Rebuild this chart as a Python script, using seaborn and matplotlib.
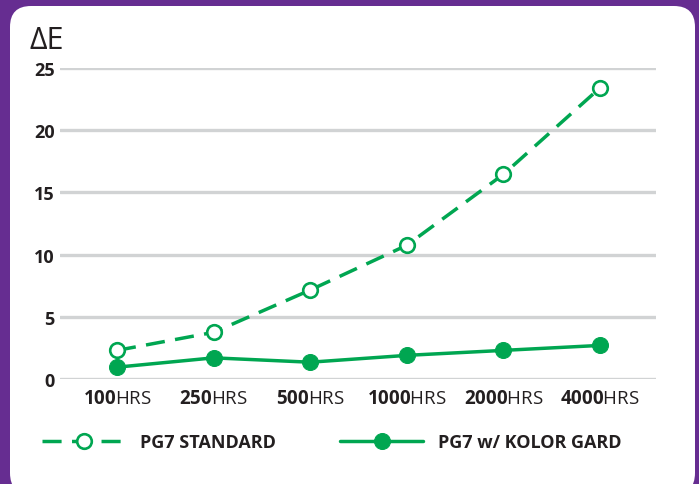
import pandas as pd
import matplotlib.pyplot as plt
import seaborn as sns
from matplotlib.patches import FancyBboxPatch

hours = ['100', '250', '500', '1000', '2000', '4000']
standard = [2.3, 3.75, 7.15, 10.75, 16.45, 23.4]
kolor_gard = [0.95, 1.7, 1.35, 1.9, 2.3, 2.7]
y_ticks = [0, 5, 10, 15, 20, 25]

green = '#00a651'
purple = '#662d91'
dark = '#231f20'

sns.set_style('white')
plt.rcParams['font.family'] = ['Open Sans', 'DejaVu Sans']
plt.rcParams['mathtext.fontset'] = 'custom'
plt.rcParams['mathtext.rm'] = 'Open Sans'
plt.rcParams['mathtext.bf'] = 'Open Sans:bold'

df = pd.DataFrame({
    'hours': hours * 2,
    'dE': standard + kolor_gard,
    'series': ['PG7 STANDARD'] * 6 + ['PG7 w/ KOLOR GARD'] * 6,
})

fig = plt.figure(figsize=(6.99, 4.85), dpi=100)
fig.patch.set_facecolor(purple)
card = FancyBboxPatch((10 / 699, -10 / 485), 685 / 699, (478 + 10) / 485,
                      boxstyle='round,pad=0,rounding_size=0.03',
                      transform=fig.transFigure, facecolor='white',
                      edgecolor='none', mutation_aspect=699 / 485, zorder=-10)
fig.patches.append(card)

ax = fig.add_axes([60 / 699, 1 - 380 / 485, 596 / 699, 311 / 485])
ax.set_facecolor('none')
ax.set_zorder(2)

std = df[df['series'] == 'PG7 STANDARD']
kg = df[df['series'] == 'PG7 w/ KOLOR GARD']
sns.lineplot(data=std, x='hours', y='dE', ax=ax, color=green, lw=2.5,
             marker='o', markersize=10.5, markerfacecolor='white',
             markeredgecolor=green, markeredgewidth=1.9,
             dashes=(5.5, 3), label='PG7 STANDARD', sort=False, zorder=3)
sns.lineplot(data=kg, x='hours', y='dE', ax=ax, color=green, lw=2.5,
             marker='o', markersize=11.5, markerfacecolor=green,
             markeredgecolor=green, label='PG7 w/ KOLOR GARD', sort=False,
             zorder=3)

for line in ax.lines:
    line.set_clip_on(False)

ax.set_xlim(-0.59, 5.58)
ax.set_ylim(0, 25)
ax.set_yticks(y_ticks)
ax.set_yticklabels([str(v) for v in y_ticks], fontweight='bold', fontsize=13,
                   color=dark)
ax.set_xticks(range(len(hours)))
ax.set_xticklabels([r'$\mathbf{%s}$HRS' % h for h in hours], fontsize=13.5,
                   color=dark)
ax.tick_params(axis='y', length=0, pad=4)
ax.tick_params(axis='x', length=0, pad=7)
ax.yaxis.grid(True, color='#d1d3d4', lw=2.4)
ax.xaxis.grid(False)
ax.set_axisbelow(True)
for s in ax.spines.values():
    s.set_visible(False)
ax.set_xlabel('')
ax.set_ylabel('')

fig.text(29 / 699, 1 - 41 / 485, 'ΔE', fontsize=22, color=dark, va='center',
         ha='left')

leg = ax.legend(loc='center left', bbox_to_anchor=(42 / 699, 1 - 443 / 485),
                bbox_transform=fig.transFigure, ncol=2, frameon=False,
                borderpad=0, borderaxespad=0,
                handlelength=4.6, handletextpad=0.8, columnspacing=3.6,
                prop={'weight': 'bold', 'size': 13})
for t in leg.get_texts():
    t.set_color(dark)

fig.savefig('out.png', dpi=100, facecolor=fig.get_facecolor())
